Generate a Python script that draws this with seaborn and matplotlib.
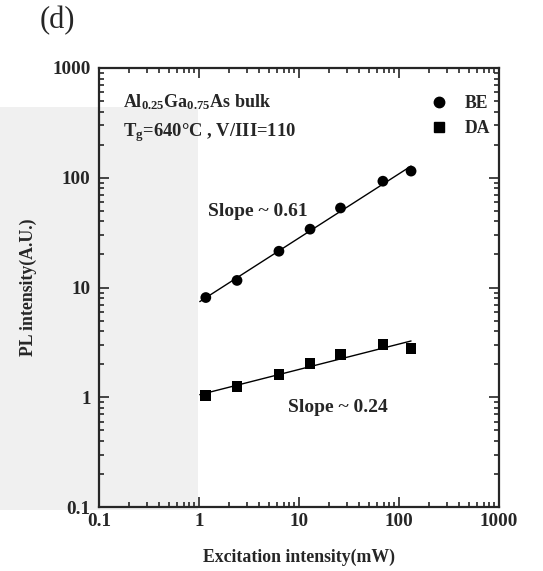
import numpy as np
import pandas as pd
import matplotlib
matplotlib.use("Agg")
import matplotlib.pyplot as plt
import matplotlib.ticker as mticker
from matplotlib.patches import Rectangle
from matplotlib.lines import Line2D
import seaborn as sns

# ---- data ----
be_power = [1.17, 2.4, 6.3, 12.9, 26, 69, 132]
be_pl = [8.1, 11.6, 21.4, 34, 53, 93, 115]
da_power = [1.17, 2.4, 6.3, 12.9, 26, 69, 132]
da_pl = [1.03, 1.26, 1.61, 2.03, 2.46, 3.01, 2.79]
series_names = ["BE", "DA"]
x_ticks = [0.1, 1, 10, 100, 1000]
y_ticks = [0.1, 1, 10, 100, 1000]

sns.set_style("ticks")
plt.rcParams["font.family"] = ["Liberation Serif", "DejaVu Serif"]
plt.rcParams["font.weight"] = "bold"
plt.rcParams["mathtext.fontset"] = "custom"
plt.rcParams["mathtext.rm"] = "Liberation Serif:bold"
plt.rcParams["mathtext.bf"] = "Liberation Serif:bold"
plt.rcParams["mathtext.it"] = "Liberation Serif:bold"

fig = plt.figure(figsize=(5.43, 5.71), dpi=100)
# faint watermark area
fig.patches.append(Rectangle((0, 1 - 510 / 571), 198 / 543, (510 - 107) / 571,
                             transform=fig.transFigure, facecolor="#f0f0f0",
                             edgecolor="none", zorder=-10))
ax = fig.add_axes([99 / 543, 1 - 507 / 571, 400 / 543, 439 / 571])
ax.set_facecolor("none")

df = pd.DataFrame({
    "power": be_power + da_power,
    "pl": be_pl + da_pl,
    "series": [series_names[0]] * len(be_power) + [series_names[1]] * len(da_power),
})

# fitted lines (log-log linear fit)
fits = []
for name, xs, ys in [("BE", be_power, be_pl), ("DA", da_power, da_pl)]:
    lx, ly = np.log10(xs), np.log10(ys)
    k, b = np.polyfit(lx, ly, 1)
    fx = np.array([min(xs) * 0.87, max(xs)])
    fits.append(pd.DataFrame({"power": fx, "pl": 10 ** (k * np.log10(fx) + b), "series": name}))
fit_df = pd.concat(fits)
sns.lineplot(data=fit_df, x="power", y="pl", units="series", estimator=None,
             color="black", lw=1.0, ax=ax, legend=False)

sns.scatterplot(data=df, x="power", y="pl", style="series", markers={"BE": "o", "DA": "s"},
                color="black", s=60, edgecolor="black", linewidth=0, ax=ax, legend=False,
                zorder=3)

ax.set_xscale("log")
ax.set_yscale("log")
ax.set_xlim(0.1, 1000)
ax.set_ylim(0.1, 1000)
fmt = mticker.FuncFormatter(lambda v, p: f"{v:g}")
ax.xaxis.set_major_locator(mticker.FixedLocator(x_ticks))
ax.yaxis.set_major_locator(mticker.FixedLocator(y_ticks))
ax.xaxis.set_major_formatter(fmt)
ax.yaxis.set_major_formatter(fmt)
ax.xaxis.set_minor_locator(mticker.LogLocator(base=10, subs=np.arange(2, 10)))
ax.yaxis.set_minor_locator(mticker.LogLocator(base=10, subs=np.arange(2, 10)))
ax.xaxis.set_minor_formatter(mticker.NullFormatter())
ax.yaxis.set_minor_formatter(mticker.NullFormatter())
ax.tick_params(which="both", direction="in", top=True, right=True, width=1.2)
ax.tick_params(which="major", length=7, labelsize=13.8)
ax.tick_params(axis="x", which="major", pad=4)
ax.tick_params(axis="y", which="major", pad=6)
ax.tick_params(which="minor", length=3.5)
for lab in ax.get_xticklabels() + ax.get_yticklabels():
    lab.set_fontweight("bold")
for sp in ax.spines.values():
    sp.set_linewidth(1.6)
    sp.set_visible(True)

ax.set_xlabel("Excitation intensity(mW)", fontsize=12.8, fontweight="bold", labelpad=14)
ax.set_ylabel("PL intensity(A.U.)", fontsize=12.8, fontweight="bold", labelpad=11)

ax.text(0.06, 0.923, r"$\mathbf{Al_{0.25}Ga_{0.75}As\ bulk}$", transform=ax.transAxes,
        fontsize=13, ha="left", va="center")
ax.text(0.06, 0.854, r"$\mathbf{T_{g}}$=640°C , V/III=110", transform=ax.transAxes,
        fontsize=13.4, ha="left", va="center", fontweight="bold")
ax.text(1.24, 48.8, "Slope ~ 0.61", fontsize=14, fontweight="bold", ha="left", va="center")
ax.text(7.8, 0.805, "Slope ~ 0.24", fontsize=14, fontweight="bold", ha="left", va="center")

handles = [Line2D([], [], marker="o", ls="none", color="black", markersize=7.5),
           Line2D([], [], marker="s", ls="none", color="black", markersize=6.5)]
leg = ax.legend(handles, series_names, loc="center left",
                bbox_to_anchor=((430 - 99) / 400, 1 - (116 - 68) / 439),
                frameon=False, handlelength=1.0, handletextpad=0.95, labelspacing=0.45,
                borderpad=0, borderaxespad=0,
                prop={"family": "Liberation Serif", "weight": "bold", "size": 12.7})

fig.text(40 / 543, 1 - 21 / 571, "(d)", fontsize=22, fontweight="normal",
         ha="left", va="center", family="Liberation Serif")

fig.savefig("out.png", dpi=100)
